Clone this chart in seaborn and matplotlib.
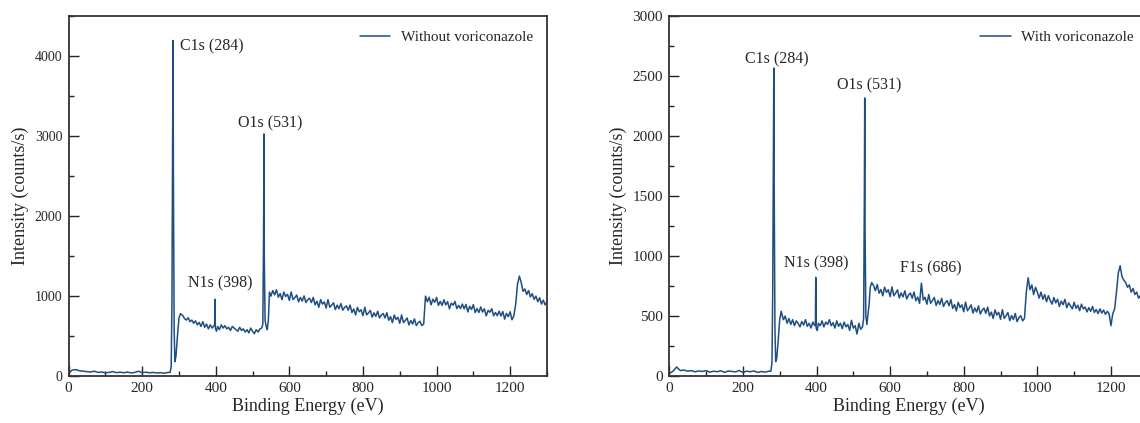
import matplotlib
matplotlib.use("Agg")
import matplotlib.pyplot as plt
import seaborn as sns
from matplotlib.ticker import MultipleLocator

# energy grid (eV), split into segments around the peaks
energy_base = list(range(0, 280, 10))
energy_c1s = [276, 279, 281, 283, 284, 285, 287, 289, 292, 296, 300, 304]
energy_mid1 = list(range(310, 400, 5))
energy_n1s = [397, 398, 399]
energy_mid2 = [402] + list(range(405, 530, 5))
energy_o1s = [528, 530, 531, 532, 534, 537, 540, 543, 546, 550]
energy_tail = list(range(555, 1305, 5))
energy = energy_base + energy_c1s + energy_mid1 + energy_n1s + energy_mid2 + energy_o1s + energy_tail

# --- without voriconazole (counts/s) ---
wo_base = [30, 75, 80, 65, 60, 55, 50, 60, 45, 50, 40, 45, 55, 42, 48, 40, 50, 38, 45, 60,
           42, 48, 40, 45, 38, 42, 35, 45]
wo_c1s = [45, 120, 900, 3200, 4200, 2500, 600, 180, 250, 500, 720, 780]
wo_mid1 = [760, 720, 700, 730, 680, 700, 660, 690, 640, 670, 620, 680, 610, 650, 590, 640, 600, 630]
wo_n1s = [640, 960, 600]
wo_mid2 = [560, 620, 580, 640, 600, 630, 590, 610, 570, 620,
           600, 580, 560, 610, 570, 590, 550, 580, 540, 600,
           560, 530, 580, 550, 590, 600]
wo_o1s = [650, 1800, 3030, 1500, 700, 620, 580, 700, 1050, 1000]
wo_slope1 = [1070, 1015, 1080, 986, 1031, 956, 1051, 996, 1022, 947,
             1052, 957, 982, 1013, 928, 983, 938, 1003, 919, 954,
             974, 919, 984, 890, 935, 860, 955, 900, 926, 851,
             956, 861, 886, 917, 832, 887, 842, 907, 823, 858,
             878, 823, 888, 794, 839, 764, 859, 804, 830, 755,
             860, 765, 790, 821, 736, 791, 746, 811, 727, 762,
             782, 727, 792, 698, 743, 668, 763, 708, 734, 659,
             764, 669, 694, 725, 640, 695, 650, 715, 631, 666,
             686, 631]
wo_step1 = [650, 1000]
wo_slope2 = [930, 986, 891, 962, 922, 983, 883, 934, 884, 955,
             890, 931, 841, 912, 887, 933, 843, 884, 845, 900,
             841, 896, 802, 872, 833, 893, 794, 844, 795, 865,
             801, 841, 752, 822, 798, 843, 754, 795, 755, 811,
             751, 807, 712, 783, 743, 804, 704, 755]
wo_step2 = [900, 1150, 1250, 1170, 1060, 1090, 1020, 1070, 990, 1030,
            960, 1000, 930, 980, 900, 950, 890, 930]
without_vrc = (wo_base + wo_c1s + wo_mid1 + wo_n1s + wo_mid2 + wo_o1s
               + wo_slope1 + wo_step1 + wo_slope2 + wo_step2)

# --- with voriconazole (counts/s) ---
w_base = [20, 40, 75, 45, 50, 40, 45, 35, 42, 38, 45, 32, 40, 36, 44, 30, 42, 38, 35, 45,
          30, 40, 36, 42, 30, 38, 32, 40]
w_c1s = [40, 110, 700, 2000, 2570, 1600, 400, 120, 150, 300, 470, 540]
w_mid1 = [470, 500, 440, 480, 430, 470, 420, 460, 440, 410, 455, 425, 470, 415, 440, 400, 450, 420]
w_n1s = [430, 823, 400]
w_mid2 = [380, 440, 420, 460, 410, 450, 430, 470, 420, 445,
          400, 460, 415, 440, 395, 450, 410, 430, 380, 465,
          400, 420, 350, 440, 390, 410]
w_o1s = [480, 1500, 2320, 1200, 500, 430, 520, 600, 740, 780]
w_slope1 = [755, 712, 764, 691, 722, 669, 741, 698, 720, 662,
            743, 670, 692, 719, 651, 693, 660, 711, 643, 675,
            692, 649, 701, 628, 659, 606, 775, 635, 657, 599,
            680, 607, 629, 656, 588, 630, 597, 648, 580, 612,
            629, 586, 638, 564, 596, 543, 615, 572, 594, 536,
            617, 544, 566, 593, 525, 567, 534, 585, 517, 549,
            566, 523, 575, 501, 533, 480, 552, 509, 531, 473,
            554, 481, 503, 530, 462, 504, 471, 522, 454, 486,
            503, 460]
w_step1 = [480, 700]
w_slope2 = [820, 720, 760, 680, 740, 700, 650, 700, 640, 680,
            620, 670, 630, 600, 655, 610, 640, 580, 625, 595,
            640, 570, 610, 585, 560, 615, 565, 590, 545, 600,
            560, 575, 535, 570, 540, 580, 530, 555, 520, 560,
            525, 550, 515, 540, 520, 420, 520, 560]
w_step2 = [700, 860, 920, 830, 800, 780, 740, 760, 700, 730,
           680, 700, 650, 670, 640, 660, 620, 640]
with_vrc = (w_base + w_c1s + w_mid1 + w_n1s + w_mid2 + w_o1s
            + w_slope1 + w_step1 + w_slope2 + w_step2)

LINE_COLOR = "#1f4e82"

sns.set_style("ticks")
plt.rcParams["font.family"] = ["Liberation Serif", "DejaVu Serif"]


def plot_spectrum(ax, y, label, ymax, ystep, ytick_size, peaks):
    sns.lineplot(x=energy, y=y, ax=ax, color=LINE_COLOR, linewidth=1.1,
                 label=label, sort=False, estimator=None)
    ax.set_xlim(0, 1300)
    ax.set_ylim(0, ymax)
    ax.xaxis.set_major_locator(MultipleLocator(200))
    ax.xaxis.set_minor_locator(MultipleLocator(100))
    ax.yaxis.set_major_locator(MultipleLocator(ystep))
    ax.yaxis.set_minor_locator(MultipleLocator(ystep / 2))
    ax.tick_params(which="both", direction="in", width=1.0, color="#222222",
                   top=False, right=False)
    ax.tick_params(which="major", length=7)
    ax.tick_params(which="minor", length=3.5)
    ax.tick_params(axis="x", labelsize=11, pad=4.5)
    ax.tick_params(axis="y", labelsize=ytick_size, pad=4.5)
    for sp in ax.spines.values():
        sp.set_visible(True)
        sp.set_color("#333333")
        sp.set_linewidth(1.3)
    ax.set_xlabel("Binding Energy (eV)", fontsize=13, labelpad=2)
    ax.set_ylabel("Intensity (counts/s)", fontsize=13, labelpad=4)
    for text, x, yy, ha in peaks:
        ax.text(x, yy, text, fontsize=11.5, ha=ha, va="center")
    ax.legend(loc="upper right", frameon=False, fontsize=11,
              handlelength=2.0, handletextpad=0.7, borderaxespad=0.5)


fig = plt.figure(figsize=(11.4, 4.23), dpi=100)
ax1 = fig.add_axes([0.0601, 0.1111, 0.4197, 0.8499])
ax2 = fig.add_axes([0.5871, 0.1111, 0.4197, 0.8499])

plot_spectrum(ax1, without_vrc, "Without voriconazole", 4500, 1000, 10,
              [("C1s (284)", 304, 4120, "left"),
               ("N1s (398)", 411, 1160, "center"),
               ("O1s (531)", 547, 3167, "center")])
plot_spectrum(ax2, with_vrc, "With voriconazole", 3000, 500, 11,
              [("C1s (284)", 293, 2645, "center"),
               ("N1s (398)", 400, 940, "center"),
               ("O1s (531)", 542, 2423, "center"),
               ("F1s (686)", 711, 895, "center")])

fig.savefig("out.png", dpi=100)
